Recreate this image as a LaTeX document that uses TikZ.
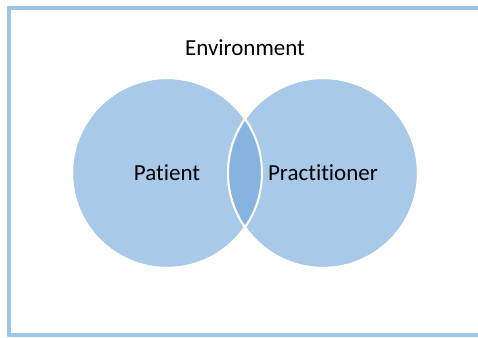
\documentclass[tikz,border=0pt]{standalone}
\usepackage{fontspec}
\setmainfont{Carlito}[Ligatures=NoCommon]
\definecolor{setblue}{HTML}{A9C9E9}
\definecolor{overlapblue}{HTML}{87B3E0}
\definecolor{frameblue}{HTML}{9DC3E6}

\begin{document}
\begin{tikzpicture}[x=1pt,y=-1pt]
        \tikzstyle{set}=[circle,fill=setblue,draw=white,line width=2pt,minimum size=190pt,inner sep=0pt,font=\fontsize{23}{27}\selectfont]
        \tikzstyle{annot}=[font=\fontsize{23}{27}\selectfont]

        \useasboundingbox (0,0) rectangle (478,337);

        % Frame of the environment (open on the right)
        \coordinate (tr) at (478,8.5);
        \coordinate (br) at (478,335);
        \draw[frameblue, line width=4pt] (tr) -- (9,8.5) -- (9,335) -- (br);

        % The two sets
        \node[set] (patient) at (167,173) {Patient};
        \node[set] (pract) at (323,173) {Practitioner};

        % Overlap of the two sets
        \begin{scope}
            \clip (patient.center) circle (95);
            \fill[overlapblue] (pract.center) circle (95);
        \end{scope}
        \draw[white, line width=2pt] (patient.center) circle (95);
        \draw[white, line width=2pt] (pract.center) circle (95);

        % Label
        \node[annot] (env) at (245,48) {Environment};
    \end{tikzpicture}
\end{document}
